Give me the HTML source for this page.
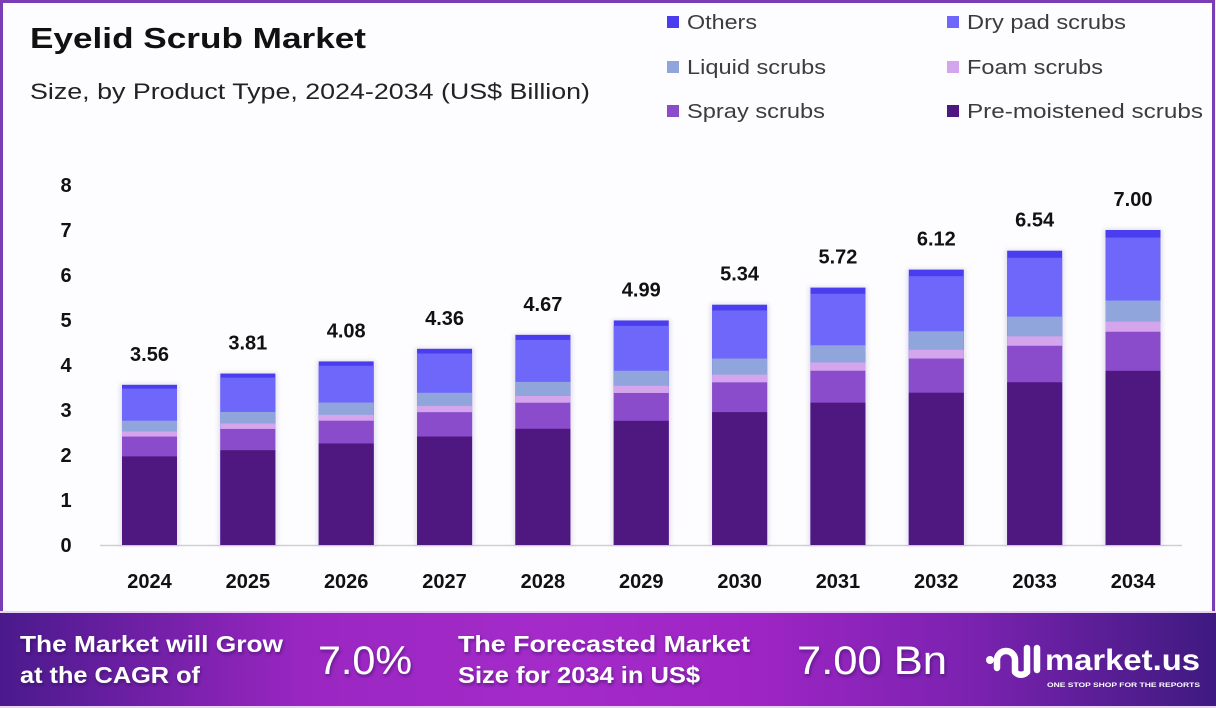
<!DOCTYPE html>
<html><head><meta charset="utf-8">
<style>
html,body{margin:0;padding:0;background:#fff;}
svg{display:block;}
text{font-family:"Liberation Sans",Arial,sans-serif;}
</style></head>
<body>
<svg width="1216" height="708" viewBox="0 0 1216 708" xmlns="http://www.w3.org/2000/svg">
<defs>
  <linearGradient id="ban" x1="0" y1="0" x2="1" y2="0">
    <stop offset="0" stop-color="#4a1a8c"/>
    <stop offset="0.25" stop-color="#9a26c2"/>
    <stop offset="0.45" stop-color="#a42bc9"/>
    <stop offset="0.62" stop-color="#9e25c4"/>
    <stop offset="0.8" stop-color="#7b22b0"/>
    <stop offset="1" stop-color="#3e1a80"/>
  </linearGradient>
  <filter id="sh" x="-20%" y="-20%" width="140%" height="140%">
    <feGaussianBlur stdDeviation="2"/>
  </filter>
  <filter id="ts" x="-10%" y="-30%" width="120%" height="160%">
    <feDropShadow dx="1" dy="2" stdDeviation="1.5" flood-color="#2a0a50" flood-opacity="0.55"/>
  </filter>
  <g id="bar">
    <rect x="0" y="-1" width="55" height="1" fill="#4a3cef"/>
    <rect x="0" y="-0.976" width="55" height="0.976" fill="#6f67fa"/>
    <rect x="0" y="-0.776" width="55" height="0.776" fill="#8fa5dc"/>
    <rect x="0" y="-0.709" width="55" height="0.709" fill="#d4a5ec"/>
    <rect x="0" y="-0.677" width="55" height="0.677" fill="#8a4ccb"/>
    <rect x="0" y="-0.553" width="55" height="0.553" fill="#4e1880"/>
  </g>
</defs>

<!-- frame -->
<rect x="0" y="0" width="1216" height="708" fill="#fdfdff"/>
<rect x="1.5" y="1.5" width="1212" height="705" fill="none" stroke="#7a3db5" stroke-width="3"/>

<!-- title -->
<text x="30" y="48" font-size="29" font-weight="bold" fill="#111" textLength="336" lengthAdjust="spacingAndGlyphs">Eyelid Scrub Market</text>
<text x="30" y="99" font-size="22" fill="#222" textLength="560" lengthAdjust="spacingAndGlyphs">Size, by Product Type, 2024-2034 (US$ Billion)</text>

<!-- legend -->
<g font-size="20" fill="#3c3c3c">
  <rect x="667" y="16" width="12" height="12" fill="#4a3cef"/>
  <text x="687" y="29" textLength="70" lengthAdjust="spacingAndGlyphs">Others</text>
  <rect x="667" y="61" width="12" height="12" fill="#8fa5dc"/>
  <text x="687" y="74" textLength="139" lengthAdjust="spacingAndGlyphs">Liquid scrubs</text>
  <rect x="667" y="105" width="12" height="12" fill="#8a4ccb"/>
  <text x="687" y="118" textLength="138" lengthAdjust="spacingAndGlyphs">Spray scrubs</text>
  <rect x="947" y="16" width="12" height="12" fill="#6f67fa"/>
  <text x="967" y="29" textLength="159" lengthAdjust="spacingAndGlyphs">Dry pad scrubs</text>
  <rect x="947" y="61" width="12" height="12" fill="#d4a5ec"/>
  <text x="967" y="74" textLength="136" lengthAdjust="spacingAndGlyphs">Foam scrubs</text>
  <rect x="947" y="105" width="12" height="12" fill="#4e1880"/>
  <text x="967" y="118" textLength="236" lengthAdjust="spacingAndGlyphs">Pre-moistened scrubs</text>
</g>

<!-- y axis labels -->
<g font-size="20" font-weight="bold" fill="#111" text-anchor="middle">
  <text x="66" y="552">0</text>
  <text x="66" y="507">1</text>
  <text x="66" y="462">2</text>
  <text x="66" y="417">3</text>
  <text x="66" y="372">4</text>
  <text x="66" y="327">5</text>
  <text x="66" y="282">6</text>
  <text x="66" y="237">7</text>
  <text x="66" y="192">8</text>
</g>

<!-- baseline -->
<line x1="100" y1="545.5" x2="1182" y2="545.5" stroke="#cfcfd6" stroke-width="1.5"/>

<!-- bar shadows -->
<g fill="#6a5a90" opacity="0.18" filter="url(#sh)">
  <rect x="120" y="383.8" width="59" height="161.2"/>
  <rect x="218.35" y="372.55" width="59" height="172.45"/>
  <rect x="316.7" y="360.4" width="59" height="184.6"/>
  <rect x="415.05" y="347.8" width="59" height="197.2"/>
  <rect x="513.4" y="333.85" width="59" height="211.15"/>
  <rect x="611.75" y="319.45" width="59" height="225.55"/>
  <rect x="710.1" y="303.7" width="59" height="241.3"/>
  <rect x="808.45" y="286.6" width="59" height="258.4"/>
  <rect x="906.8" y="268.6" width="59" height="276.4"/>
  <rect x="1005.15" y="249.7" width="59" height="295.3"/>
  <rect x="1103.5" y="229" width="59" height="316"/>
</g>

<!-- bars -->
<use href="#bar" transform="translate(122,545) scale(1,160.2)"/>
<use href="#bar" transform="translate(220.35,545) scale(1,171.45)"/>
<use href="#bar" transform="translate(318.7,545) scale(1,183.6)"/>
<use href="#bar" transform="translate(417.05,545) scale(1,196.2)"/>
<use href="#bar" transform="translate(515.4,545) scale(1,210.15)"/>
<use href="#bar" transform="translate(613.75,545) scale(1,224.55)"/>
<use href="#bar" transform="translate(712.1,545) scale(1,240.3)"/>
<use href="#bar" transform="translate(810.45,545) scale(1,257.4)"/>
<use href="#bar" transform="translate(908.8,545) scale(1,275.4)"/>
<use href="#bar" transform="translate(1007.15,545) scale(1,294.3)"/>
<use href="#bar" transform="translate(1105.5,545) scale(1,315)"/>

<!-- value labels -->
<g font-size="20" font-weight="bold" fill="#111" text-anchor="middle">
  <text x="149.5" y="361">3.56</text>
  <text x="247.85" y="349.5">3.81</text>
  <text x="346.2" y="337.4">4.08</text>
  <text x="444.55" y="324.8">4.36</text>
  <text x="542.9" y="310.8">4.67</text>
  <text x="641.25" y="296.4">4.99</text>
  <text x="739.6" y="280.7">5.34</text>
  <text x="837.95" y="263.6">5.72</text>
  <text x="936.3" y="245.6">6.12</text>
  <text x="1034.65" y="226.7">6.54</text>
  <text x="1133" y="206">7.00</text>
</g>

<!-- x labels -->
<g font-size="20" font-weight="bold" fill="#111" text-anchor="middle">
  <text x="149.5" y="588">2024</text>
  <text x="247.85" y="588">2025</text>
  <text x="346.2" y="588">2026</text>
  <text x="444.55" y="588">2027</text>
  <text x="542.9" y="588">2028</text>
  <text x="641.25" y="588">2029</text>
  <text x="739.6" y="588">2030</text>
  <text x="837.95" y="588">2031</text>
  <text x="936.3" y="588">2032</text>
  <text x="1034.65" y="588">2033</text>
  <text x="1133" y="588">2034</text>
</g>

<!-- banner -->
<rect x="0" y="611" width="1216" height="97" fill="#e6d4f2"/>
<rect x="0" y="613" width="1216" height="93" fill="url(#ban)"/>

<g fill="#fff" font-weight="bold" filter="url(#ts)">
  <text x="20" y="652" font-size="23" textLength="263" lengthAdjust="spacingAndGlyphs">The Market will Grow</text>
  <text x="20" y="683" font-size="23" textLength="180" lengthAdjust="spacingAndGlyphs">at the CAGR of</text>
  <text x="458" y="652" font-size="23" textLength="292" lengthAdjust="spacingAndGlyphs">The Forecasted Market</text>
  <text x="458" y="683" font-size="23" textLength="242" lengthAdjust="spacingAndGlyphs">Size for 2034 in US$</text>
</g>
<g fill="#fff" filter="url(#ts)">
  <text x="318" y="674" font-size="40" textLength="94" lengthAdjust="spacingAndGlyphs">7.0%</text>
  <text x="797" y="674" font-size="40" textLength="150" lengthAdjust="spacingAndGlyphs">7.00 Bn</text>
</g>

<!-- logo -->
<g stroke="#fff" stroke-width="6.5" fill="none" stroke-linecap="round" stroke-linejoin="round">
  <path d="M997 668 L997 660 A9 9 0 0 1 1015 660 L1015 672 A8 8 0 0 0 1027 672"/>
  <path d="M1027 672 L1027 648"/>
  <path d="M1037 648 L1037 670"/>
</g>
<circle cx="990" cy="660" r="4" fill="#fff"/>
<text x="1045" y="670" font-size="30" font-weight="bold" fill="#fff" textLength="155" lengthAdjust="spacingAndGlyphs">market.us</text>
<text x="1047" y="687" font-size="6.5" font-weight="bold" fill="#fff" textLength="153" lengthAdjust="spacingAndGlyphs">ONE STOP SHOP FOR THE REPORTS</text>
</svg>
</body></html>
